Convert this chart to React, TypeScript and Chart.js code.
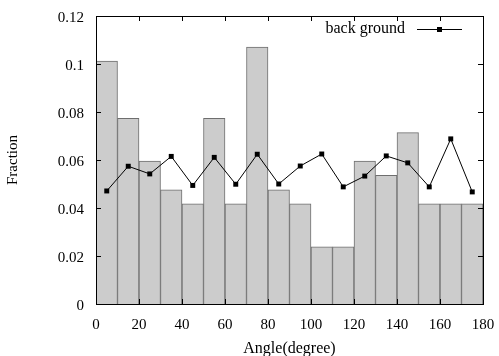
import React, { useEffect, useRef } from "react";
import { Chart, registerables } from "chart.js";

Chart.register(...registerables);

const binCenters = [5, 15, 25, 35, 45, 55, 65, 75, 85, 95, 105, 115, 125, 135, 145, 155, 165, 175];
const histValues = [0.1012, 0.0774, 0.0595, 0.0476, 0.0417, 0.0774, 0.0417, 0.1071, 0.0476, 0.0417, 0.0238, 0.0238, 0.0595, 0.0536, 0.0714, 0.0417, 0.0417, 0.0417];
const backgroundValues = [0.0471, 0.0574, 0.0542, 0.0615, 0.0494, 0.0611, 0.0499, 0.0624, 0.05, 0.0575, 0.0625, 0.0488, 0.0533, 0.0617, 0.0588, 0.0488, 0.0688, 0.0467];
const lineLabel = "back ground";
const xTitle = "Angle(degree)";
const yTitle = "Fraction";

const FONT = "'Liberation Serif', 'Times New Roman', serif";

const framePlugin = {
  id: "frame",
  afterDatasetsDraw(chart: any) {
    const { ctx, chartArea } = chart;
    const { left, right, top, bottom } = chartArea;
    const xs = chart.scales.x;
    const ys = chart.scales.y;
    ctx.save();
    ctx.strokeStyle = "#000";
    ctx.lineWidth = 1;
    ctx.beginPath();
    const tl = 5;
    xs.ticks.forEach((t: any) => {
      const px = Math.round(xs.getPixelForValue(t.value)) + 0.5;
      if (px <= left + 1 || px >= right - 1) return;
      ctx.moveTo(px, top);
      ctx.lineTo(px, top + tl);
      ctx.moveTo(px, bottom);
      ctx.lineTo(px, bottom - tl);
    });
    ys.ticks.forEach((t: any) => {
      const py = Math.round(ys.getPixelForValue(t.value)) + 0.5;
      if (py <= top + 1 || py >= bottom - 1) return;
      ctx.moveTo(left, py);
      ctx.lineTo(left + tl, py);
      ctx.moveTo(right, py);
      ctx.lineTo(right - tl, py);
    });
    ctx.stroke();
    ctx.strokeRect(Math.round(left) + 0.5, Math.round(top) + 0.5, Math.round(right - left), Math.round(bottom - top));

    // key
    const ds = chart.data.datasets[1];
    const ky = 29;
    ctx.fillStyle = "#000";
    ctx.font = `16px ${FONT}`;
    ctx.textAlign = "right";
    ctx.textBaseline = "middle";
    ctx.fillText(ds.label, 405, ky);
    ctx.beginPath();
    ctx.moveTo(417, ky + 0.5);
    ctx.lineTo(462, ky + 0.5);
    ctx.stroke();
    ctx.fillRect(437, ky - 2, 5, 5);
    ctx.restore();
  },
};

export default function App() {
  const ref = useRef<HTMLCanvasElement>(null);
  useEffect(() => {
    if (!ref.current) return;
    const chart = new Chart(ref.current, {
      type: "bar",
      data: {
        datasets: [
          {
            type: "bar",
            label: "hist",
            data: binCenters.map((x, i) => ({ x, y: histValues[i] })),
            backgroundColor: "#cccccc",
            borderColor: "#6e6e6e",
            borderWidth: 1,
            barPercentage: 1,
            categoryPercentage: 1,
            order: 2,
          } as any,
          {
            type: "line",
            label: lineLabel,
            data: binCenters.map((x, i) => ({ x, y: backgroundValues[i] })),
            borderColor: "#000",
            backgroundColor: "#000",
            borderWidth: 1,
            pointStyle: "rect",
            pointRadius: 3.5,
            pointBorderWidth: 0,
            tension: 0,
            order: 1,
          } as any,
        ],
      },
      options: {
        animation: false,
        responsive: true,
        maintainAspectRatio: false,
        layout: { padding: { top: 16, right: 16, left: 0, bottom: 0 } },
        plugins: { legend: { display: false }, tooltip: { enabled: false } },
        scales: {
          x: {
            type: "linear",
            min: 0,
            max: 180,
            offset: false,
            grid: { display: false },
            border: { display: false },
            ticks: { stepSize: 20, color: "#000", padding: 4, font: { family: FONT, size: 15 }, maxRotation: 0 },
            title: { display: true, text: xTitle, color: "#000", font: { family: FONT, size: 16 }, padding: { top: 0, bottom: -2 } },
            afterFit: (s: any) => { s.height = 52; },
          },
          y: {
            min: 0,
            max: 0.12,
            grid: { display: false },
            border: { display: false },
            ticks: {
              stepSize: 0.02,
              color: "#000",
              padding: 4,
              labelOffset: 2,
              font: { family: FONT, size: 15 },
              callback: (v: any) => String(Number(Number(v).toFixed(2))),
            },
            title: { display: true, text: yTitle, color: "#000", font: { family: FONT, size: 15 }, padding: { top: 4, bottom: 4 } },
            afterFit: (s: any) => { s.width = 96; },
          },
        },
      } as any,
      plugins: [framePlugin],
    });
    return () => chart.destroy();
  }, []);
  return (
    <div style={{ position: "fixed", left: 0, top: 0, width: 499, height: 356, background: "#fff" }}>
      <canvas ref={ref} />
    </div>
  );
}
